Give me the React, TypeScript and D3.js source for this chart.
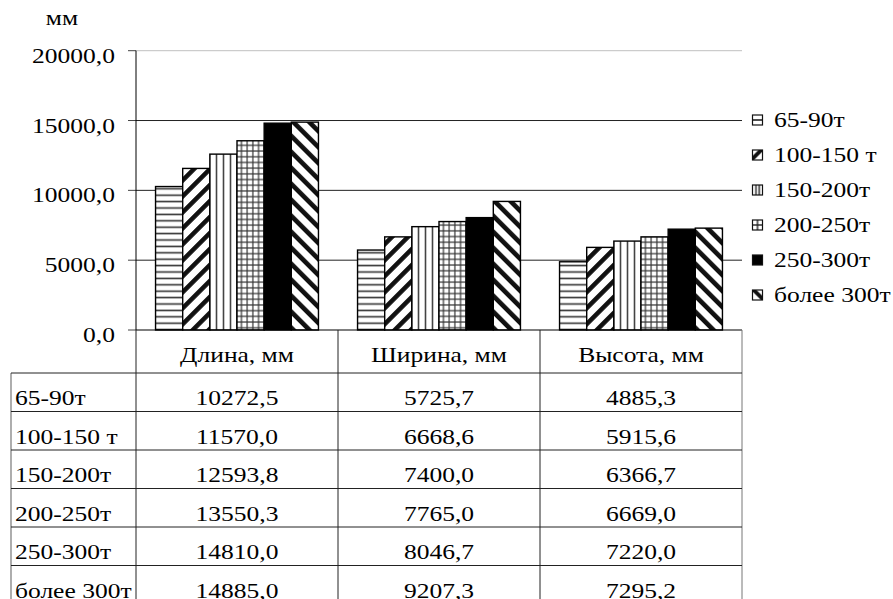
import React from "react";
import * as d3 from "d3";

const categories = ["Длина, мм", "Ширина, мм", "Высота, мм"];
const seriesNames = ["65-90т", "100-150 т", "150-200т", "200-250т", "250-300т", "более 300т"];
const s65_90 = [10272.5, 5725.7, 4885.3];
const s100_150 = [11570.0, 6668.6, 5915.6];
const s150_200 = [12593.8, 7400.0, 6366.7];
const s200_250 = [13550.3, 7765.0, 6669.0];
const s250_300 = [14810.0, 8046.7, 7220.0];
const s300plus = [14885.0, 9207.3, 7295.2];
const seriesValues = [s65_90, s100_150, s150_200, s200_250, s250_300, s300plus];
const yTicks = [0, 5000, 10000, 15000, 20000];
const unitLabel = "мм";

const W = 893;
const H = 599;
const FS = 22;
const SX = 1.16;

const fmt = (v: number) => v.toFixed(1).replace(".", ",");

function T({ x, y, anchor = "start", fam = "Liberation Serif", children }: any) {
  return (
    <g transform={`translate(${x},${y}) scale(${SX},1)`}>
      <text textAnchor={anchor} style={{ fontFamily: `"${fam}"`, fontSize: FS }} fill="#000">
        {children}
      </text>
    </g>
  );
}

export default function App() {
  const plotLeft = 136;
  const plotRight = 742;
  const y = d3.scaleLinear().domain([0, 20000]).range([330, 50.7]);
  const x0 = d3.scaleBand<string>().domain(categories).range([plotLeft, plotRight]).padding(0);
  const x1 = d3
    .scaleBand<string>()
    .domain(seriesNames)
    .range([0, x0.bandwidth()])
    .paddingInner(0)
    .paddingOuter(0.72);
  const legendY = d3.scalePoint<string>().domain(seriesNames).range([120, 295]);
  const rowY = d3.scaleBand<string>().domain(seriesNames).range([373, 604]);
  const tableLeft = 11;
  const headerTop = y(0);
  const headerBottom = 373;
  const fills = ["url(#pH)", "url(#pD1)", "url(#pV)", "url(#pG)", "#000", "url(#pD2)"];
  const legFills = ["url(#lH)", "url(#lD1)", "url(#lV)", "url(#lG)", "#000", "url(#lD2)"];
  const colEdges = [plotLeft, ...categories.map((c) => (x0(c) as number) + x0.bandwidth())];

  return (
    <svg width={W} height={H} style={{ position: "absolute", left: 0, top: 0 }}>
      <defs>
        <pattern id="pH" patternUnits="userSpaceOnUse" width={8} height={6.4}>
          <rect width={8} height={6.4} fill="#fff" />
          <line x1={0} x2={8} y1={3.2} y2={3.2} stroke="#333" strokeWidth={1.6} />
        </pattern>
        <pattern id="pV" patternUnits="userSpaceOnUse" width={7} height={8}>
          <rect width={7} height={8} fill="#fff" />
          <line x1={3.5} x2={3.5} y1={0} y2={8} stroke="#444" strokeWidth={1.6} />
        </pattern>
        <pattern id="pG" patternUnits="userSpaceOnUse" width={5.7} height={5.7}>
          <rect width={5.7} height={5.7} fill="#fff" />
          <line x1={2.85} x2={2.85} y1={0} y2={5.7} stroke="#333" strokeWidth={1.2} />
          <line x1={0} x2={5.7} y1={2.85} y2={2.85} stroke="#333" strokeWidth={1.2} />
        </pattern>
        <pattern id="pD1" patternUnits="userSpaceOnUse" width={11.3} height={11.3} patternTransform="rotate(45)">
          <rect width={11.3} height={11.3} fill="#fff" />
          <rect x={0} y={0} width={4.6} height={11.3} fill="#111" />
        </pattern>
        <pattern id="pD2" patternUnits="userSpaceOnUse" width={11.3} height={11.3} patternTransform="rotate(-45)">
          <rect width={11.3} height={11.3} fill="#fff" />
          <rect x={0} y={0} width={4.6} height={11.3} fill="#111" />
        </pattern>
        <pattern id="lH" patternUnits="objectBoundingBox" patternContentUnits="objectBoundingBox" width={1} height={1}>
          <rect width={1} height={1} fill="#fff" />
          <rect x={0} y={0.42} width={1} height={0.16} fill="#222" />
        </pattern>
        <pattern id="lV" patternUnits="objectBoundingBox" patternContentUnits="objectBoundingBox" width={1} height={1}>
          <rect width={1} height={1} fill="#fff" />
          <rect x={0.28} y={0} width={0.14} height={1} fill="#222" />
          <rect x={0.6} y={0} width={0.14} height={1} fill="#222" />
        </pattern>
        <pattern id="lG" patternUnits="objectBoundingBox" patternContentUnits="objectBoundingBox" width={1} height={1}>
          <rect width={1} height={1} fill="#fff" />
          <rect x={0.43} y={0} width={0.14} height={1} fill="#222" />
          <rect x={0} y={0.43} width={1} height={0.14} fill="#222" />
        </pattern>
        <pattern id="lD1" patternUnits="objectBoundingBox" patternContentUnits="objectBoundingBox" width={1} height={1}>
          <rect width={1} height={1} fill="#fff" />
          <polygon points="0,1 0,0.6 0.6,0 1,0 1,0.15 0.15,1" fill="#111" />
        </pattern>
        <pattern id="lD2" patternUnits="objectBoundingBox" patternContentUnits="objectBoundingBox" width={1} height={1}>
          <rect width={1} height={1} fill="#fff" />
          <polygon points="0,0 0.4,0 1,0.6 1,1 0.85,1 0,0.15" fill="#111" />
        </pattern>
      </defs>

      <rect x={0} y={0} width={W} height={H} fill="#fff" />

      <T x={62} y={25} anchor="middle" fam="Tinos">{unitLabel}</T>

      {yTicks.map((t) => (
        <g key={t}>
          {t > 0 && (
            <line x1={plotLeft} x2={plotRight} y1={y(t)} y2={y(t)} stroke={t === 20000 ? "#c0c0c0" : "#222"} strokeWidth={1} />
          )}
          <line x1={plotLeft - 8} x2={plotLeft} y1={y(t)} y2={y(t)} stroke="#444" strokeWidth={1} />
          <T x={115} y={y(t) + 12} anchor="end">{fmt(t)}</T>
        </g>
      ))}

      {categories.map((c, ci) => (
        <g key={c} transform={`translate(${x0(c)},0)`}>
          {seriesNames.map((s, si) => {
            const v = seriesValues[si][ci];
            return (
              <rect key={s} x={x1(s)} y={y(v)} width={x1.bandwidth()} height={y(0) - y(v)} fill={fills[si]} stroke="#000" strokeWidth={1.4} />
            );
          })}
        </g>
      ))}

      <line x1={plotLeft} x2={plotLeft} y1={y(20000)} y2={y(0)} stroke="#000" strokeWidth={1} />
      <line x1={plotLeft} x2={plotRight} y1={y(0)} y2={y(0)} stroke="#000" strokeWidth={1.2} />

      {seriesNames.map((s, si) => {
        const ly = legendY(s) as number;
        return (
          <g key={s}>
            <rect x={752.5} y={ly - 5} width={10} height={10} fill={legFills[si]} stroke="#111" strokeWidth={1.2} />
            <T x={774} y={ly + 7} fam="Times New Roman">{s}</T>
          </g>
        );
      })}

      {categories.map((c) => (
        <T key={c} x={(x0(c) as number) + x0.bandwidth() / 2} y={362} anchor="middle" fam="Tinos">
          {c}
        </T>
      ))}
      {colEdges.map((ex, i) => (
        <line key={"v" + i} x1={ex} x2={ex} y1={headerTop} y2={604} stroke={i === colEdges.length - 1 ? "#777" : "#222"} strokeWidth={1} />
      ))}
      <line x1={tableLeft} x2={tableLeft} y1={headerBottom} y2={604} stroke="#777" strokeWidth={1.2} />
      {seriesNames.map((s, si) => {
        const ry = rowY(s) as number;
        return (
          <g key={"row" + s}>
            <line x1={tableLeft} x2={plotRight} y1={ry} y2={ry} stroke="#222" strokeWidth={1} />
            <T x={15} y={ry + 32}>{s}</T>
            {categories.map((c, ci) => (
              <T key={c} x={(x0(c) as number) + x0.bandwidth() / 2} y={ry + 32} anchor="middle">
                {fmt(seriesValues[si][ci])}
              </T>
            ))}
          </g>
        );
      })}
    </svg>
  );
}
